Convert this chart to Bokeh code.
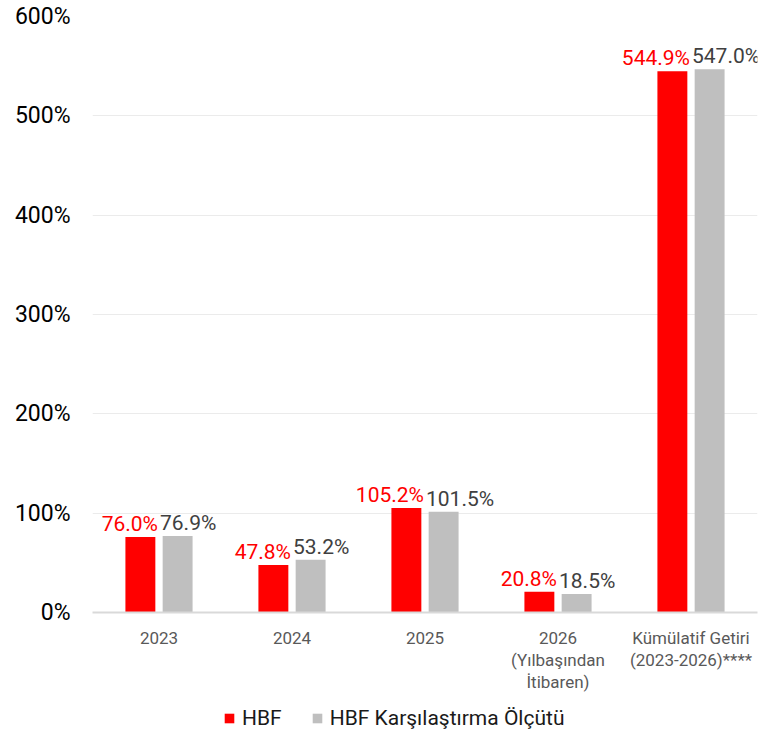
from bokeh.plotting import figure
from bokeh.layouts import column
from bokeh.models import ColumnDataSource, LabelSet, Legend, LegendItem, FixedTicker, Range1d
from bokeh.core.properties import value
from bokeh.transform import dodge
from bokeh.embed import file_html
from bokeh.resources import INLINE

categories = ["2023", "2024", "2025", "2026\n(Yılbaşından\nİtibaren)", "Kümülatif Getiri\n(2023-2026)****"]
hbf = [76.0, 47.8, 105.2, 20.8, 544.9]
benchmark = [76.9, 53.2, 101.5, 18.5, 547.0]
series_names = ["HBF", "HBF Karşılaştırma Ölçütü"]
y_ticks = [0, 100, 200, 300, 400, 500, 600]

RED = "#FF0000"
GRAY = "#BFBFBF"
FONT = "Roboto"

src = ColumnDataSource(dict(
    cat=categories,
    hbf=hbf,
    bm=benchmark,
    hbf_txt=[f"{v:.1f}%" for v in hbf],
    bm_txt=[f"{v:.1f}%" for v in benchmark],
))

p = figure(x_range=categories, y_range=(0, 600), width=765, height=700,
           output_backend="svg", toolbar_location=None,
           min_border_left=92, min_border_right=8, min_border_top=16, min_border_bottom=88)
p.outline_line_color = None

r1 = p.vbar(x=dodge("cat", -0.14, range=p.x_range), top="hbf", width=0.225, source=src,
            fill_color=RED, line_color=None)
r2 = p.vbar(x=dodge("cat", 0.14, range=p.x_range), top="bm", width=0.225, source=src,
            fill_color=GRAY, line_color=None)

lab1 = LabelSet(x="cat", y="hbf", text="hbf_txt", source=src, x_offset=-1, y_offset=6,
                text_align="right", text_baseline="alphabetic", text_color=RED,
                text_font=value(FONT), text_font_size="21px")
lab2 = LabelSet(x="cat", y="bm", text="bm_txt", source=src, x_offset=1, y_offset=6,
                text_align="left", text_baseline="alphabetic", text_color="#404040",
                text_font=value(FONT), text_font_size="21px")
p.add_layout(lab1)
p.add_layout(lab2)

# y axis
p.yaxis.ticker = FixedTicker(ticks=y_ticks)
p.yaxis.major_label_overrides = {t: f"{t}%" for t in y_ticks}
p.yaxis.axis_line_color = None
p.yaxis.major_tick_line_color = None
p.yaxis.minor_tick_line_color = None
p.yaxis.major_label_standoff = 16
p.yaxis.major_label_text_font = FONT
p.yaxis.major_label_text_font_size = "23px"
p.yaxis.major_label_text_color = "#000000"

# x axis
p.xaxis.axis_line_color = "#D9D9D9"
p.xaxis.axis_line_width = 2
p.xaxis.major_tick_line_color = None
p.xaxis.minor_tick_line_color = None
p.xaxis.major_label_standoff = 9
p.xaxis.major_label_text_font = FONT
p.xaxis.major_label_text_font_size = "17px"
p.xaxis.major_label_text_color = "#595959"
p.xaxis.major_label_text_line_height = 1.1

p.xgrid.grid_line_color = None
p.ygrid.grid_line_color = "#EBEBEB"
p.ygrid.grid_line_width = 1

# legend strip (its series renderers have zero width and lie outside its range; only the legend shows)
pl = figure(width=765, height=36, x_range=categories, y_range=Range1d(-200, -100),
            output_backend="svg", toolbar_location=None,
            x_axis_location=None, y_axis_location=None,
            min_border_left=92, min_border_right=8, min_border_top=0, min_border_bottom=0)
pl.outline_line_color = None
pl.grid.visible = False
d1 = pl.vbar(x="cat", top="hbf", width=0, source=src, fill_color=RED, line_color=None)
d2 = pl.vbar(x="cat", top="bm", width=0, source=src, fill_color=GRAY, line_color=None)
legend = Legend(items=[LegendItem(label=series_names[0], renderers=[d1]),
                       LegendItem(label=series_names[1], renderers=[d2])],
                orientation="horizontal", location=(131, 6),
                label_text_font=FONT, label_text_font_size="21px", label_text_color="#1A1A1A",
                label_height=22, glyph_width=12, glyph_height=12, spacing=29, label_standoff=7,
                border_line_color=None, background_fill_alpha=0, padding=0, margin=0)
pl.add_layout(legend)

layout = column(p, pl, spacing=0)
open("out.html", "w").write(file_html(layout, INLINE))
